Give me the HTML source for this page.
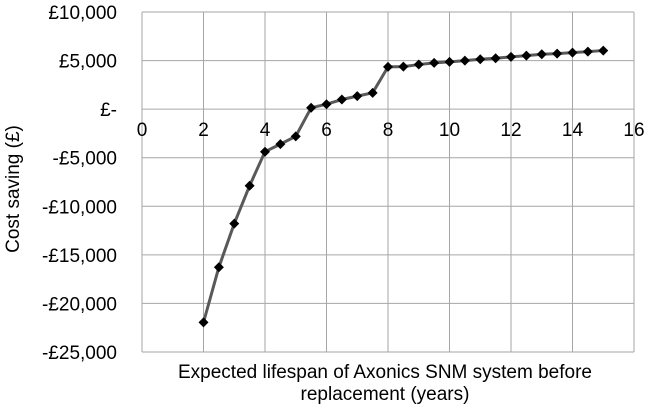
<!DOCTYPE html>
<html><head><meta charset="utf-8"><style>
html,body{margin:0;padding:0;background:#fff;}
svg{display:block;font-family:"Liberation Sans",Arial,sans-serif;}
</style></head><body>
<svg id="chart" width="646" height="405">
<g id="grid"></g>
<g id="yticks"></g>
<g id="xticks"></g>
<g id="series"></g>
<text transform="translate(19,189) rotate(-90)" text-anchor="middle" font-size="19" fill="#000">Cost saving (£)</text>
<text x="385" y="378" text-anchor="middle" font-size="19" fill="#000">Expected lifespan of Axonics SNM system before</text>
<text x="385" y="400" text-anchor="middle" font-size="19" fill="#000">replacement (years)</text>
</svg>
<script>
const years=[2,2.5,3,3.5,4,4.5,5,5.5,6,6.5,7,7.5,8,8.5,9,9.5,10,10.5,11,11.5,12,12.5,13,13.5,14,14.5,15];
const savings=[-21950,-16270,-11780,-7880,-4380,-3600,-2800,140,510,990,1340,1680,4350,4380,4590,4760,4860,5000,5140,5240,5380,5510,5650,5720,5820,5920,6030];
const yTicks=[10000,5000,0,-5000,-10000,-15000,-20000,-25000];
const yTickLabels=["£10,000","£5,000","£-","-£5,000","-£10,000","-£15,000","-£20,000","-£25,000"];
const xTicks=[0,2,4,6,8,10,12,14,16];

const L=142,R=634,T=12,B=352;
const sx=v=>L+(v-0)/(16-0)*(R-L);
const sy=v=>T+(10000-v)/(35000)*(B-T);
const NS="http://www.w3.org/2000/svg";
function mk(tag,attrs,parent){const e=document.createElementNS(NS,tag);for(const k in attrs)e.setAttribute(k,attrs[k]);parent.appendChild(e);return e;}
const grid=document.getElementById('grid');
yTicks.forEach(v=>{const l=mk('line',{x1:L,x2:R,y1:sy(v),y2:sy(v),stroke:'#a6a6a6','stroke-width':1},grid);

});
xTicks.forEach(v=>{const l=mk('line',{x1:sx(v),x2:sx(v),y1:T,y2:B,stroke:'#a6a6a6','stroke-width':1},grid);

});
const yt=document.getElementById('yticks');
yTicks.forEach((v,i)=>{const t=mk('text',{x:117,y:sy(v)+7,'text-anchor':'end','font-size':19,fill:'#000'},yt);t.textContent=yTickLabels[i];

});
const xt=document.getElementById('xticks');
xTicks.forEach(v=>{const t=mk('text',{x:sx(v),y:sy(0)+27,'text-anchor':'middle','font-size':19,fill:'#000'},xt);t.textContent=v;

});
const s=document.getElementById('series');
const pts=years.map((x,i)=>sx(x)+','+sy(savings[i])).join(' ');
const pl=mk('polyline',{points:pts,fill:'none',stroke:'#595959','stroke-width':3,'stroke-linejoin':'round'},s);


years.forEach((x,i)=>{const cx=sx(x),cy=sy(savings[i]),r=5;
const p=mk('polygon',{points:`${cx},${cy-r} ${cx+r},${cy} ${cx},${cy+r} ${cx-r},${cy}`,fill:'#000'},s);

});
</script>
</body></html>
